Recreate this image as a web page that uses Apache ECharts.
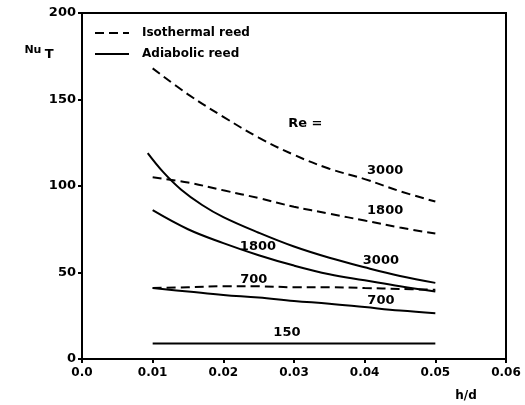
<!DOCTYPE html>
<html>
<head>
<meta charset="utf-8">
<script src="https://cdn.jsdelivr.net/npm/echarts@6/dist/echarts.min.js"></script>
<style>
  html, body { margin: 0; padding: 0; background: #fff; }
  #chart { width: 525px; height: 405px; }
</style>
</head>
<body>
<div id="chart"></div>
<script>
// h/d positions
var hd = [0.01, 0.015, 0.02, 0.025, 0.03, 0.035, 0.04, 0.045, 0.05];

// isothermal rod (dashed)
var iso3000 = [168, 153, 140, 128, 118, 110, 104, 97, 91];
var iso1800 = [105, 102, 97.5, 93, 88, 84, 80, 76, 72.5];
var iso700  = [41, 41.5, 42, 42, 41.5, 41.5, 41, 40.5, 40];

// adiabatic rod (solid)
var adi3000hd = [0.0093, 0.0115, 0.014, 0.017, 0.02, 0.025, 0.03, 0.035, 0.04, 0.045, 0.05];
var adi3000 = [119, 108, 98, 89, 82, 73, 65, 58.5, 53, 48, 44];
var adi1800 = [86, 75, 67, 60, 54, 49, 45.5, 42, 39];
var adi700  = [41, 39, 37, 35.5, 33.5, 32, 30, 28, 26.5];
var adi150  = [9, 9, 9, 9, 9, 9, 9, 9, 9];

// curve labels [text, h/d, Nu]
var curveLabels = [
  ['Re =', 0.0316, 136],
  ['3000', 0.0429, 109],
  ['1800', 0.0429, 85.5],
  ['1800', 0.0249, 65],
  ['3000', 0.0423, 57],
  ['700', 0.0243, 46],
  ['700', 0.0423, 34],
  ['150', 0.029, 15]
];

function pairs(xs, ys) {
  return ys.map(function (v, i) { return [xs[i], v]; });
}

var font = 'DejaVu Sans';

function line(name, xs, ys, dashed) {
  return {
    name: name,
    type: 'line',
    data: pairs(xs, ys),
    smooth: 0.4,
    symbol: 'none',
    silent: true,
    lineStyle: { color: '#000', width: 2, type: dashed ? [9, 5] : 'solid' },
    itemStyle: { color: '#000' }
  };
}

var chart = echarts.init(document.getElementById('chart'));

var series = [
  line('Isothermal reed', hd, iso3000, true),
  line('Isothermal reed', hd, iso1800, true),
  line('Isothermal reed', hd, iso700, true),
  line('Adiabolic reed', adi3000hd, adi3000, false),
  line('Adiabolic reed', hd, adi1800, false),
  line('Adiabolic reed', hd, adi700, false),
  line('Adiabolic reed', hd, adi150, false),
  {
    type: 'scatter',
    symbolSize: 1,
    itemStyle: { opacity: 0 },
    silent: true,
    data: curveLabels.map(function (l) { return { value: [l[1], l[2]], name: l[0] }; }),
    label: {
      show: true,
      position: 'inside',
      formatter: '{b}',
      color: '#000',
      opacity: 1,
      fontFamily: font,
      fontWeight: 'bold',
      fontSize: 13
    }
  }
];

chart.setOption({
  animation: false,
  backgroundColor: '#fff',
  grid: {
    left: 82, right: 19, top: 13, bottom: 46,
    show: true, borderColor: '#000', borderWidth: 2
  },
  legend: {
    data: ['Isothermal reed', 'Adiabolic reed'],
    orient: 'vertical',
    left: 89, top: 22,
    itemWidth: 34, itemHeight: 12, itemGap: 9,
    itemStyle: { opacity: 0 },
    textStyle: { color: '#000', fontFamily: font, fontWeight: 'bold', fontSize: 12, padding: [0, 0, 0, 8] }
  },
  xAxis: {
    type: 'value',
    min: 0, max: 0.06, interval: 0.01,
    name: 'h/d',
    nameLocation: 'end',
    nameGap: -40,
    nameTextStyle: { color: '#000', fontFamily: font, fontWeight: 'bold', fontSize: 12, align: 'center', verticalAlign: 'top', padding: [31, 0, 0, 0] },
    axisLine: { lineStyle: { color: '#000', width: 2 } },
    axisTick: { show: true, length: 4, lineStyle: { color: '#000', width: 2 } },
    splitLine: { show: false },
    axisLabel: {
      color: '#000', fontFamily: font, fontWeight: 'bold', fontSize: 12, margin: 8,
      formatter: function (v) { return v === 0 ? '0.0' : v.toFixed(2); }
    }
  },
  yAxis: {
    type: 'value',
    min: 0, max: 200, interval: 50,
    name: '{a|Nu} {b|T}',
    nameLocation: 'end',
    nameGap: 0,
    nameTextStyle: {
      padding: [0, 0, -48, -86],
      rich: {
        a: { color: '#000', fontFamily: font, fontWeight: 'bold', fontSize: 11 },
        b: { color: '#000', fontFamily: font, fontWeight: 'bold', fontSize: 13, padding: [8, 0, 0, 0] }
      }
    },
    axisLine: { show: true, lineStyle: { color: '#000', width: 2 } },
    axisTick: { show: true, length: 4, lineStyle: { color: '#000', width: 2 } },
    splitLine: { show: false },
    axisLabel: { color: '#000', fontFamily: font, fontWeight: 'bold', fontSize: 13, margin: 6 }
  },
  series: series
});
</script>
</body>
</html>
